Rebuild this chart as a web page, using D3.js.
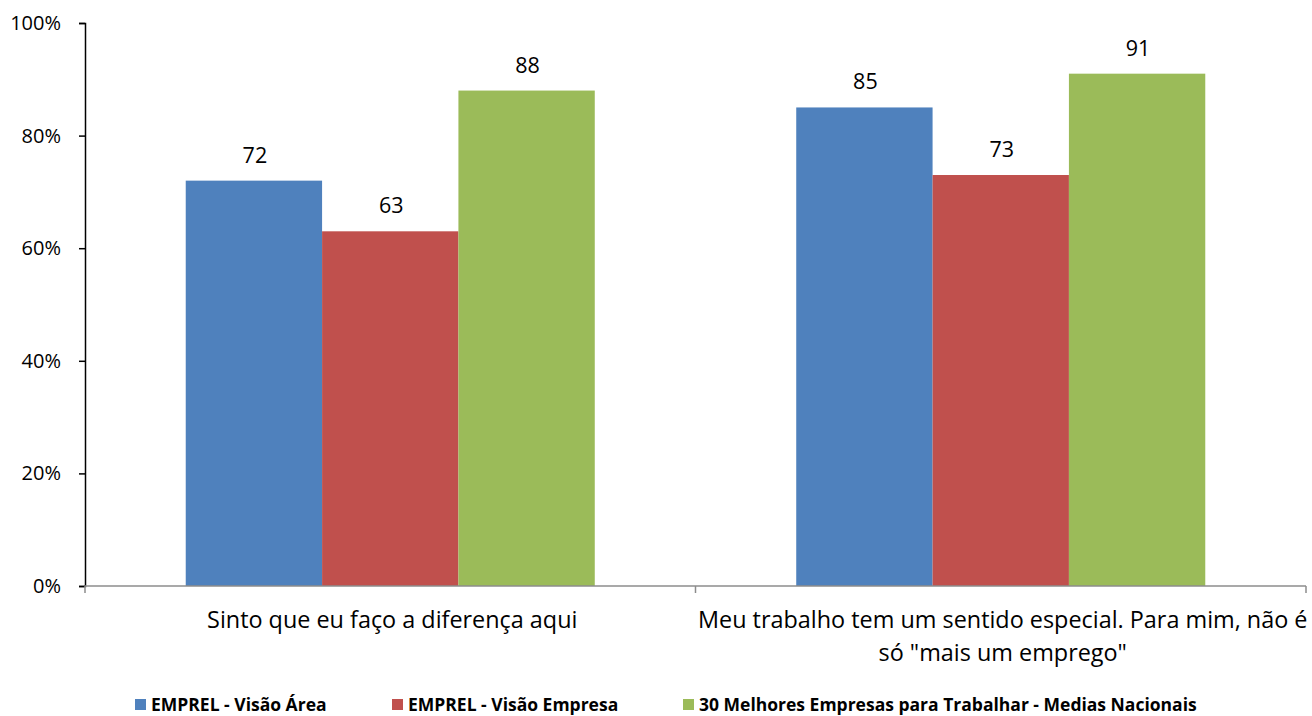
<!DOCTYPE html>
<html>
<head>
<meta charset="utf-8">
<script src="https://cdn.jsdelivr.net/npm/d3@7"></script>
<style>
  html, body { margin: 0; padding: 0; background: #fff; }
  svg { display: block; font-family: "Open Sans", "Liberation Sans", sans-serif; }
</style>
</head>
<body>
<svg id="chart" width="1312" height="716"></svg>
<script>
// Survey statements (categories)
const categories = [
  "Sinto que eu faço a diferença aqui",
  "Meu trabalho tem um sentido especial. Para mim, não é só \"mais um emprego\""
];
// Series names
const seriesNames = [
  "EMPREL - Visão Área",
  "EMPREL - Visão Empresa",
  "30 Melhores Empresas para Trabalhar - Medias Nacionais"
];
// Values (%) per series, in category order
const areaValues = [72, 85];
const empresaValues = [63, 73];
const nacionalValues = [88, 91];
const seriesColors = ["#4F81BD", "#C0504D", "#9BBB59"];
// Y axis ticks
const yTicks = [0, 20, 40, 60, 80, 100];

const seriesValues = [areaValues, empresaValues, nacionalValues];

const svg = d3.select("#chart");
const margin = { left: 85, right: 6, top: 23 };
const W = 1312;
const plotBottom = 586;

const x = d3.scaleBand()
  .domain(categories)
  .range([margin.left, W - margin.right])
  .paddingInner(0)
  .paddingOuter(0);

const groupPad = 0.165;
const x1 = d3.scaleBand()
  .domain(d3.range(seriesNames.length))
  .range([0, x.bandwidth()])
  .paddingOuter(groupPad / (1 - 2 * groupPad) * 3)
  .paddingInner(0);

const y = d3.scaleLinear().domain([0, 100]).range([plotBottom, margin.top]);

// Bars
const groups = svg.append("g").selectAll("g")
  .data(categories)
  .join("g")
  .attr("transform", d => `translate(${x(d)},0)`);

groups.selectAll("rect")
  .data((d, i) => seriesValues.map((vals, s) => ({ s, v: vals[i] })))
  .join("rect")
  .attr("x", d => x1(d.s))
  .attr("width", x1.bandwidth())
  .attr("y", d => y(d.v))
  .attr("height", d => y(0) - y(d.v))
  .attr("fill", d => seriesColors[d.s]);

// Value labels
groups.selectAll("text.val")
  .data((d, i) => seriesValues.map((vals, s) => ({ s, v: vals[i] })))
  .join("text")
  .attr("class", "val")
  .attr("x", d => x1(d.s) + x1.bandwidth() / 2 + 1)
  .attr("y", d => y(d.v) - 18)
  .attr("text-anchor", "middle")
  .attr("font-size", 21.5)
  .attr("fill", "#000")
  .text(d => d.v);

// Y axis
const yAxis = d3.axisLeft(y)
  .tickValues(yTicks)
  .tickFormat(d => d + "%")
  .tickSize(6)
  .tickPadding(18);
const yg = svg.append("g")
  .attr("transform", `translate(${margin.left},0)`)
  .call(yAxis);
yg.select(".domain").attr("stroke", "#000").attr("stroke-width", 1.5);
yg.selectAll(".tick line").attr("stroke", "#000").attr("stroke-width", 1.5);
yg.selectAll(".tick text")
  .attr("font-size", 20)
  .attr("font-family", "\"Open Sans\", sans-serif")
  .attr("fill", "#000");

// X axis baseline with boundary ticks
const xg = svg.append("g");
xg.append("line")
  .attr("x1", margin.left).attr("x2", W - margin.right)
  .attr("y1", plotBottom).attr("y2", plotBottom)
  .attr("stroke", "#8c8c8c").attr("stroke-width", 1.5);
const boundaries = categories.map(c => x(c)).concat([x(categories[categories.length - 1]) + x.bandwidth()]);
xg.selectAll("line.tick")
  .data(boundaries)
  .join("line")
  .attr("class", "tick")
  .attr("x1", d => d).attr("x2", d => d)
  .attr("y1", plotBottom).attr("y2", plotBottom + 7)
  .attr("stroke", "#8c8c8c").attr("stroke-width", 1.5);

// Category labels, wrapped to a maximum line width
function wrapWords(textSel, str, width) {
  const words = str.split(" ");
  const lines = [];
  let line = [];
  const probe = textSel.append("tspan");
  words.forEach(w => {
    line.push(w);
    probe.text(line.join(" "));
    if (probe.node().getComputedTextLength() > width && line.length > 1) {
      line.pop();
      lines.push(line.join(" "));
      line = [w];
    }
  });
  lines.push(line.join(" "));
  probe.remove();
  return lines;
}

categories.forEach(c => {
  const cx = x(c) + x.bandwidth() / 2 + 2;
  const t = svg.append("text")
    .attr("text-anchor", "middle")
    .attr("font-size", 23.4)
    .attr("fill", "#000");
  const lines = wrapWords(t, c, 622);
  t.selectAll("tspan")
    .data(lines)
    .join("tspan")
    .attr("x", cx)
    .attr("y", (d, i) => 628 + i * 33)
    .text(d => d);
});

// Legend
const legendX = [135, 392, 683];
const lg = svg.append("g").selectAll("g")
  .data(seriesNames)
  .join("g")
  .attr("transform", (d, i) => `translate(${legendX[i]},699)`);
lg.append("rect")
  .attr("width", 11).attr("height", 11)
  .attr("fill", (d, i) => seriesColors[i]);
lg.append("text")
  .attr("x", 16).attr("y", 11.5)
  .attr("font-size", 17.5)
  .attr("font-weight", "bold")
  .attr("fill", "#000")
  .text(d => d);
</script>
</body>
</html>
